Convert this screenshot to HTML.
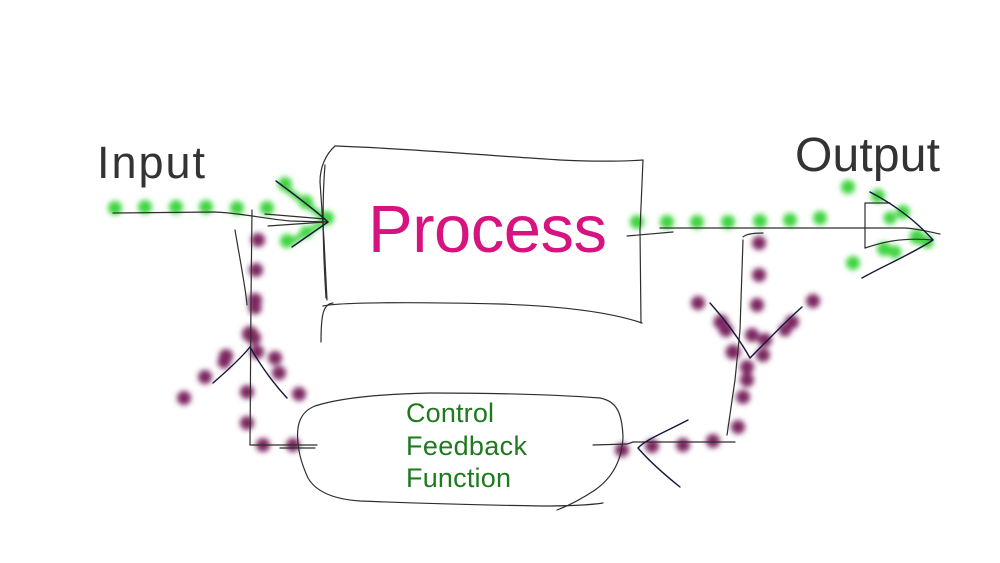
<!DOCTYPE html>
<html><head><meta charset="utf-8"><style>
html,body{margin:0;padding:0;background:#fff;}
svg{display:block;}
</style></head><body>
<svg width="1000" height="563" viewBox="0 0 1000 563" xmlns="http://www.w3.org/2000/svg">
<defs>
<filter id="bg" x="-50%" y="-50%" width="200%" height="200%"><feGaussianBlur stdDeviation="2.6"/></filter>
<filter id="bp" x="-50%" y="-50%" width="200%" height="200%"><feGaussianBlur stdDeviation="2.6"/></filter>
</defs>
<rect width="1000" height="563" fill="#fff"/>

<!-- green dots -->
<g fill="#3fd43f" filter="url(#bg)">
<circle cx="115" cy="208" r="7"/><circle cx="145" cy="207" r="7"/><circle cx="176" cy="207" r="7"/>
<circle cx="206" cy="207" r="7"/><circle cx="237" cy="208" r="7"/><circle cx="267" cy="208" r="7"/>
<circle cx="285" cy="184" r="7"/><circle cx="306" cy="202" r="7"/><circle cx="327" cy="218" r="7"/>
<circle cx="306" cy="232" r="6"/><circle cx="287" cy="241" r="7"/>
<path d="M280,184 L327,220 L288,244" fill="none" stroke="#3fd43f" stroke-width="6"/>
<circle cx="637" cy="222" r="7"/><circle cx="667" cy="222" r="7"/><circle cx="697" cy="222" r="7"/>
<circle cx="728" cy="222" r="7"/><circle cx="760" cy="221" r="7"/><circle cx="790" cy="220" r="7"/>
<circle cx="820" cy="218" r="7"/>
<circle cx="848" cy="187" r="7"/><circle cx="878" cy="196" r="7"/><circle cx="903" cy="212" r="7"/>
<circle cx="890" cy="218" r="6.5"/><circle cx="917" cy="237" r="7.5"/><circle cx="927" cy="242" r="6.5"/>
<circle cx="884" cy="249" r="7"/><circle cx="895" cy="252" r="6.5"/><circle cx="853" cy="263" r="7"/>
</g>

<!-- purple dots -->
<g fill="#7b2660" filter="url(#bp)">
<circle cx="258" cy="240" r="7"/><circle cx="256" cy="270" r="7"/><circle cx="255" cy="300" r="7"/>
<circle cx="255" cy="308" r="6.5"/>
<circle cx="250" cy="334" r="8"/><circle cx="254" cy="338" r="7"/><circle cx="226" cy="356" r="7"/>
<circle cx="224" cy="362" r="6.5"/>
<circle cx="257" cy="352" r="7"/><circle cx="275" cy="358" r="7"/><circle cx="279" cy="373" r="7"/>
<circle cx="205" cy="377" r="7"/><circle cx="184" cy="398" r="7"/><circle cx="299" cy="394" r="7"/>
<circle cx="247" cy="392" r="7"/><circle cx="247" cy="423" r="7"/><circle cx="263" cy="445" r="7"/>
<circle cx="293" cy="445" r="7"/>
<circle cx="759" cy="243" r="7"/><circle cx="759" cy="275" r="7"/><circle cx="757" cy="305" r="7"/>
<circle cx="698" cy="303" r="7"/><circle cx="813" cy="301" r="7"/><circle cx="721" cy="322" r="7.5"/>
<circle cx="726" cy="330" r="7"/>
<circle cx="752" cy="335" r="7"/><circle cx="765" cy="340" r="7"/><circle cx="792" cy="322" r="7"/>
<circle cx="785" cy="330" r="6.5"/><circle cx="733" cy="352" r="7.5"/><circle cx="763" cy="355" r="7"/>
<circle cx="747" cy="367" r="7"/><circle cx="747" cy="380" r="7"/><circle cx="743" cy="397" r="7"/>
<circle cx="738" cy="427" r="7"/><circle cx="713" cy="441" r="7"/><circle cx="683" cy="445" r="7"/>
<circle cx="652" cy="446" r="7"/><circle cx="622" cy="450" r="7"/>
</g>

<!-- sketch lines -->
<g fill="none" stroke="#2e2e2e" stroke-width="1.2" stroke-linecap="round" stroke-linejoin="round">
<!-- process box -->
<path d="M335,146 C400,148 480,155 560,160 C600,162 630,161 643,160"/>
<path d="M335,146 C325,155 320,168 320,182 L324,240 L327,300"/>
<path d="M325,165 C322,200 323,250 326,298"/>
<path d="M643,160 L640,230 L641,323"/>
<path d="M323,306 C340,302 420,302 500,304 C560,306 610,312 642,323"/>
<path d="M333,303 C323,304 321,315 321,342"/>
<!-- input line -->
<path d="M113,213 L215,212 C240,213 260,218 290,221 L328,222"/>
<path d="M265,214 L325,219"/>
<path d="M268,226 L325,222"/>
<!-- left feedback -->
<path d="M252,210 L251,300 L250,445 L317,445"/>
<path d="M235,230 C240,260 246,290 247,305"/>
<!-- output line -->
<path d="M627,236 L673,232"/>
<path d="M660,228 L905,228 C920,229 930,232 940,234"/>
<!-- output arrowhead box -->
<path d="M865,203 L865,248"/>
<path d="M865,203 L890,203"/>
<path d="M865,248 C880,243 900,237 933,240"/>
<!-- right feedback -->
<path d="M743,237 C746,234 755,233 763,233"/>
<path d="M743,240 L740,330 L735,380 L727,435"/>
<path d="M735,442 L633,442 C630,443 628,444 627,444 L593,445"/>
<!-- control ellipse -->
<path d="M298,443 C296,425 300,412 315,406 C340,398 380,394 430,393 C500,393 560,395 600,398 C615,401 622,410 623,437 C622,460 612,478 595,490 C580,500 565,507 557,510"/>
<path d="M603,503 C590,505 570,506 540,506 C480,505 410,503 360,501 C330,499 315,490 308,478 C302,465 299,455 298,443"/>
<path d="M280,448 L315,448"/>
</g>

<!-- arrowheads (darker navy strokes) -->
<g fill="none" stroke="#15163a" stroke-width="1.4" stroke-linecap="round" stroke-linejoin="round">
<path d="M276,181 C295,195 315,210 328,222 L292,247"/>
<path d="M213,383 C228,370 242,357 250,347 C262,368 275,385 287,398"/>
<path d="M710,303 C725,320 740,340 750,358 C768,340 785,322 802,307"/>
<path d="M870,192 C895,205 915,220 933,240 C910,255 885,265 862,278"/>
<path d="M688,420 C665,432 645,440 638,448 C650,462 665,475 680,487"/>
</g>

<!-- text -->
<g font-family="'Liberation Sans', Arial, sans-serif">
<text x="97" y="178" font-size="45" fill="#333" textLength="108" lengthAdjust="spacing">Input</text>
<text x="795" y="171" font-size="48" fill="#333" textLength="145" lengthAdjust="spacing">Output</text>
<text x="368" y="252" font-size="67" fill="#d6137f" textLength="239" lengthAdjust="spacing">Process</text>
<text x="406" y="422" font-size="27" fill="#1f7a1f" textLength="88" lengthAdjust="spacing">Control</text>
<text x="406" y="455" font-size="27" fill="#1f7a1f" textLength="121" lengthAdjust="spacing">Feedback</text>
<text x="406" y="487" font-size="27" fill="#1f7a1f" textLength="105" lengthAdjust="spacing">Function</text>
</g>
</svg>
</body></html>
